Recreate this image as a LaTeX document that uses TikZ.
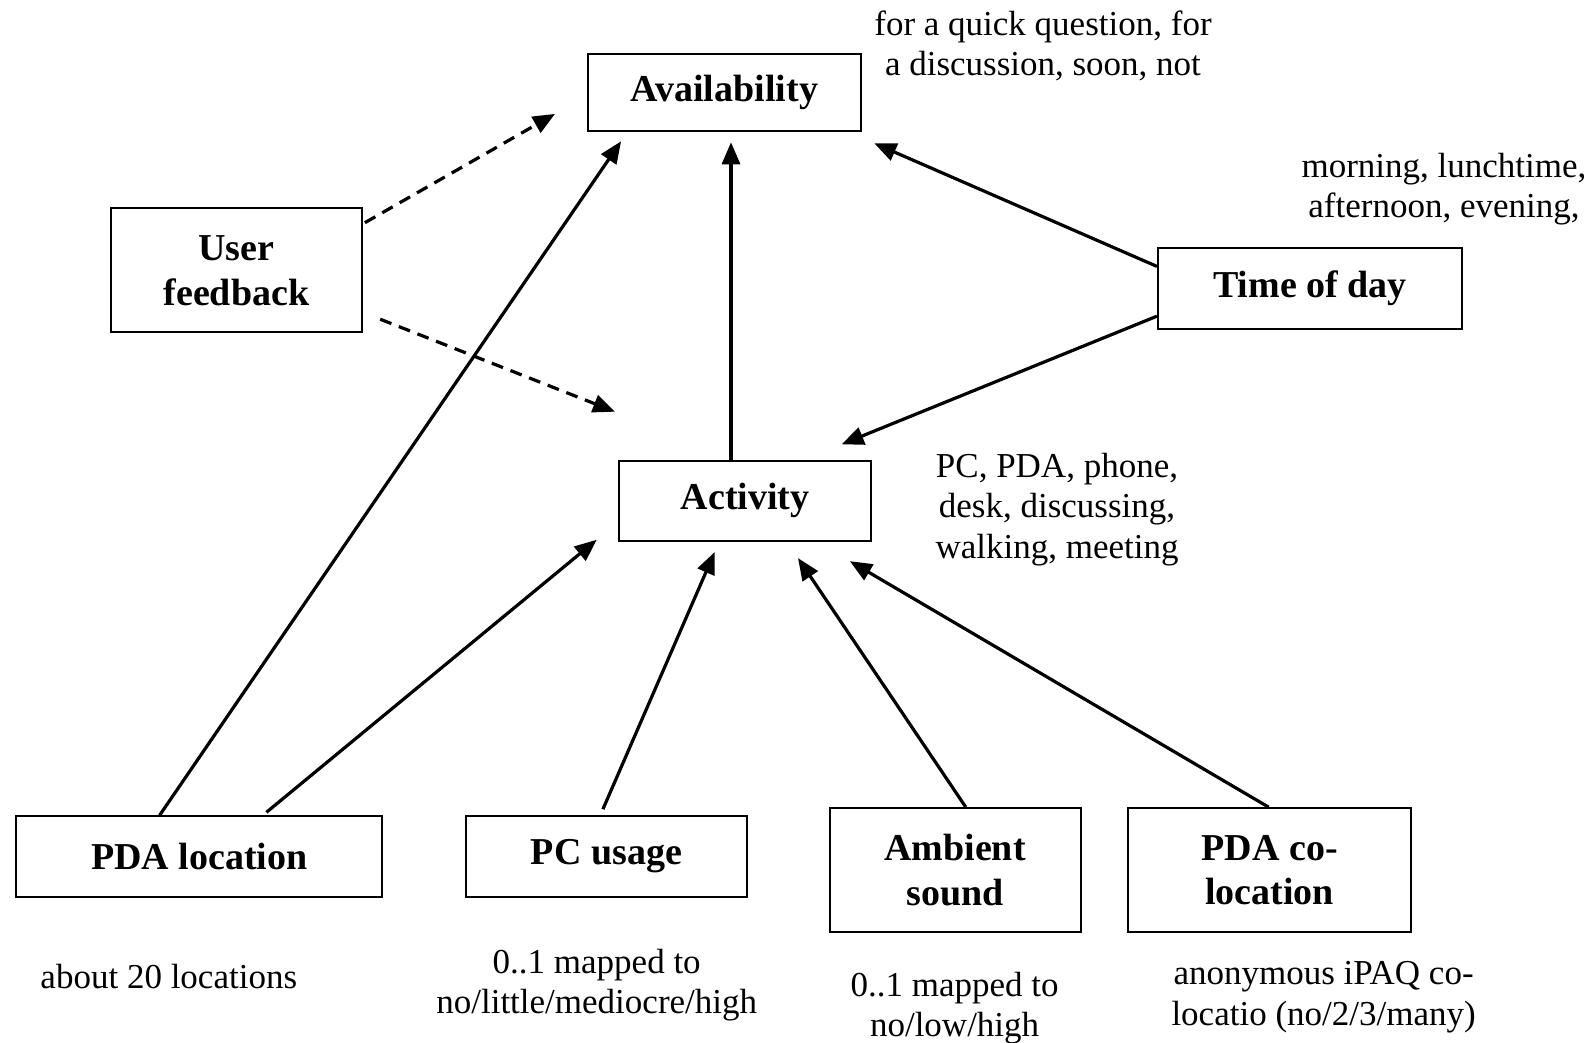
\documentclass[tikz,border=0pt]{standalone}
\usepackage{fontspec}
\setmainfont{Liberation Serif}
\usetikzlibrary{arrows.meta,calc}
\begin{document}
\begin{tikzpicture}[x=0.5pt,y=-0.5pt,
 box/.style={draw, line width=1pt, inner sep=0pt, align=center, font=\fontsize{19}{22.4}\selectfont\bfseries},
 lbl/.style={inner sep=0pt, align=center, font=\fontsize{17.5}{20.3}\selectfont},
 arr/.style={line width=1.6pt, -{Triangle[length=11pt,width=9pt]}},
 darr/.style={arr, dash pattern=on 6pt off 4pt}]
\useasboundingbox (0,0) rectangle (1594,1043);
% boxes
\node[box, minimum width=136.75pt, minimum height=38.6pt] (avail) at (724.4,92.5) {Availability};
\node[box, minimum width=125.5pt, minimum height=62pt] (uf) at (236.4,270.4) {User\\feedback};
\node[box, minimum width=152pt, minimum height=40.2pt] (time) at (1309.9,288.3) {Time of day};
\node[box, minimum width=126pt, minimum height=40.2pt] (act) at (745.2,500.7) {Activity};
\node[box, minimum width=183pt, minimum height=40.2pt] (pdaloc) at (199.3,856.5) {PDA location};
\node[box, minimum width=140.8pt, minimum height=40.2pt] (pcu) at (606.4,856.5) {PC usage};
\node[box, minimum width=125.5pt, minimum height=62pt] (amb) at (955,870.2) {Ambient\\sound};
\node[box, minimum width=141.3pt, minimum height=62pt] (pdaco) at (1269.7,870.2) {PDA co-\\location};
% labels
\node[lbl] (lavail) at (1043,46) {for a quick question, for\\a discussion, soon, not};
\node[lbl] (ltime) at (1444,189) {morning, lunchtime,\\afternoon, evening,};
\node[lbl] (lact) at (1057,509.5) {PC, PDA, phone,\\desk, discussing,\\walking, meeting};
\node[lbl] (lpdaloc) at (168.8,977) {about 20 locations};
\node[lbl] (lpcu) at (596.7,985) {0..1 mapped to\\no/little/mediocre/high};
\node[lbl] (lamb) at (954.6,1008) {0..1 mapped to\\no/low/high};
\node[lbl] (lpdaco) at (1323.6,997) {anonymous iPAQ co-\\locatio (no/2/3/many)};
% connector end points (starts tied to their boxes)
\coordinate (s1) at ($(uf.north east)+(2,15.3)$);
\coordinate (t1) at (555,113.9);
\coordinate (s2) at ($(uf.south east)+(17.3,-14.2)$);
\coordinate (t2) at (615,411.7);
\coordinate (s3) at ($(pdaloc.north west)+(144.3,0)$);
\coordinate (t3) at (621.1,141.3);
\coordinate (s4) at ($(pdaloc.north west)+(251.1,-3)$);
\coordinate (t4) at (596.7,539.8);
\coordinate (s5) at ($(act.north)+(-14.2,0)$);
\coordinate (t5) at (731,142.3);
\coordinate (s6) at ($(time.north west)+(0,19.3)$);
\coordinate (t6) at (874.3,143.3);
\coordinate (s7) at ($(time.south west)+(0,-13.3)$);
\coordinate (t7) at (841.7,444.3);
\coordinate (s8) at ($(pcu.north west)+(138.3,-6.1)$);
\coordinate (t8) at (714.7,552);
\coordinate (s9) at ($(amb.north west)+(137.3,0)$);
\coordinate (t9) at (798,558.1);
\coordinate (s10) at ($(pdaco.north west)+(141.3,0)$);
\coordinate (t10) at (849.9,561.2);
% connectors
\draw[darr] (s1) -- (t1);
\draw[darr] (s2) -- (t2);
\draw[arr] (s3) -- (t3);
\draw[arr] (s4) -- (t4);
\draw[arr] (s5) -- (t5);
\draw[arr] (s6) -- (t6);
\draw[arr] (s7) -- (t7);
\draw[arr] (s8) -- (t8);
\draw[arr] (s9) -- (t9);
\draw[arr] (s10) -- (t10);
\end{tikzpicture}
\end{document}
